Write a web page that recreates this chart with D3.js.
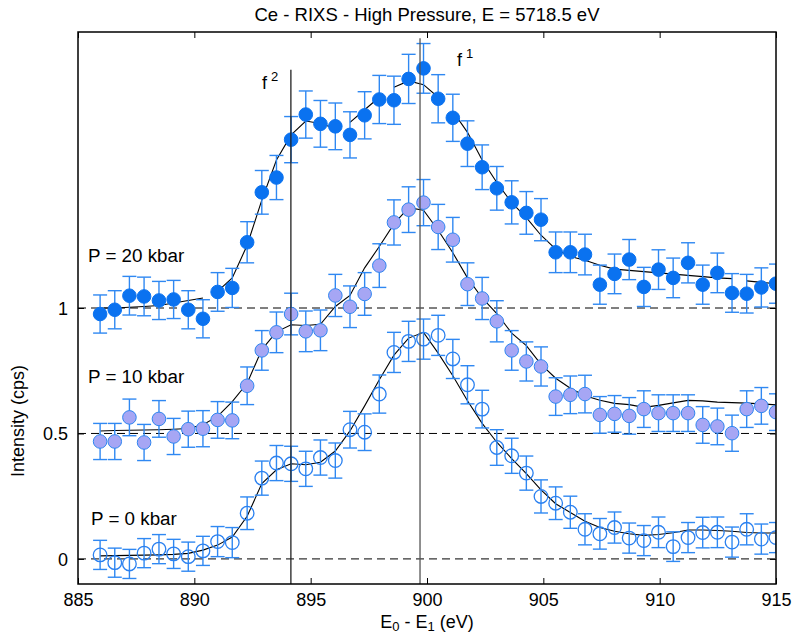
<!DOCTYPE html>
<html>
<head>
<meta charset="utf-8">
<script src="https://cdn.jsdelivr.net/npm/d3@7"></script>
<style>
  body { margin: 0; background: #fff; }
  svg text { font-family: Arial, "Liberation Sans", Helvetica, sans-serif; fill: #000; }
</style>
</head>
<body>
<svg id="chart"></svg>
<script>
// E0 - E1 (eV), same grid for the three pressures
const energy = [885.95, 886.58, 887.21, 887.84, 888.48, 889.11, 889.74, 890.37, 891.00, 891.63,
    892.27, 892.90, 893.53, 894.16, 894.79, 895.42, 896.06, 896.69, 897.32, 897.95,
    898.58, 899.21, 899.85, 900.48, 901.11, 901.74, 902.37, 903.00, 903.64, 904.27,
    904.90, 905.53, 906.16, 906.79, 907.43, 908.06, 908.69, 909.32, 909.95, 910.58,
    911.22, 911.85, 912.48, 913.11, 913.74, 914.37, 915.00]

// P = 0 kbar (offset 0)
const int0 = [0.016, -0.015, -0.02, 0.023, 0.039, 0.02, 0.009, 0.032, 0.069, 0.065,
    0.182, 0.322, 0.382, 0.379, 0.359, 0.404, 0.392, 0.515, 0.505, 0.657,
    0.823, 0.867, 0.876, 0.891, 0.797, 0.694, 0.597, 0.444, 0.411, 0.342,
    0.249, 0.222, 0.186, 0.118, 0.1, 0.125, 0.083, 0.073, 0.106, 0.049,
    0.085, 0.105, 0.106, 0.067, 0.118, 0.079, 0.085]
const err0 = [0.058, 0.058, 0.058, 0.058, 0.058, 0.058, 0.058, 0.058, 0.06, 0.06,
    0.065, 0.068, 0.07, 0.07, 0.07, 0.07, 0.07, 0.073, 0.073, 0.076,
    0.08, 0.08, 0.08, 0.08, 0.078, 0.076, 0.075, 0.071, 0.07, 0.068,
    0.066, 0.065, 0.064, 0.062, 0.061, 0.062, 0.06, 0.06, 0.061, 0.059,
    0.06, 0.061, 0.061, 0.06, 0.062, 0.06, 0.06]
const fit0 = [0.012, 0.013, 0.014, 0.015, 0.016, 0.018, 0.022, 0.035, 0.055, 0.087,
    0.17, 0.30, 0.355, 0.379, 0.375, 0.385, 0.43, 0.51, 0.61, 0.714,
    0.812, 0.88, 0.903, 0.82, 0.73, 0.63, 0.54, 0.465, 0.40, 0.34,
    0.275, 0.22, 0.185, 0.15, 0.125, 0.11, 0.10, 0.094, 0.097, 0.104,
    0.115, 0.115, 0.113, 0.11, 0.105, 0.103, 0.103]

// P = 10 kbar (offset 0.5)
const int10 = [0.468, 0.468, 0.564, 0.464, 0.558, 0.488, 0.517, 0.519, 0.554, 0.552,
    0.69, 0.831, 0.903, 0.976, 0.907, 0.911, 1.05, 1.005, 1.056, 1.169,
    1.341, 1.392, 1.42, 1.323, 1.272, 1.095, 1.038, 0.947, 0.831, 0.787,
    0.767, 0.647, 0.654, 0.657, 0.574, 0.578, 0.57, 0.597, 0.581, 0.581,
    0.581, 0.534, 0.528, 0.501, 0.597, 0.61, 0.585]
const err10 = [0.072, 0.072, 0.073, 0.072, 0.073, 0.072, 0.072, 0.072, 0.073, 0.073,
    0.075, 0.079, 0.081, 0.083, 0.081, 0.081, 0.084, 0.083, 0.085, 0.087,
    0.09, 0.091, 0.092, 0.09, 0.089, 0.085, 0.084, 0.082, 0.079, 0.078,
    0.078, 0.075, 0.075, 0.075, 0.073, 0.073, 0.073, 0.073, 0.073, 0.073,
    0.073, 0.073, 0.073, 0.072, 0.073, 0.073, 0.073]
const fit10 = [0.51, 0.512, 0.513, 0.514, 0.515, 0.517, 0.52, 0.535, 0.568, 0.627,
    0.70, 0.834, 0.905, 0.933, 0.93, 0.935, 1.006, 1.05, 1.16, 1.245,
    1.335, 1.40, 1.39, 1.31, 1.22, 1.12, 1.04, 0.978, 0.90, 0.85,
    0.775, 0.72, 0.68, 0.65, 0.632, 0.62, 0.615, 0.604, 0.612, 0.622,
    0.632, 0.63, 0.625, 0.623, 0.621, 0.618, 0.614]

// P = 20 kbar (offset 1)
const int20 = [0.976, 0.993, 1.049, 1.046, 1.03, 1.034, 0.993, 0.957, 1.064, 1.08,
    1.262, 1.461, 1.52, 1.671, 1.771, 1.734, 1.724, 1.69, 1.768, 1.831,
    1.828, 1.913, 1.955, 1.834, 1.758, 1.655, 1.561, 1.477, 1.421, 1.379,
    1.352, 1.222, 1.222, 1.213, 1.093, 1.136, 1.193, 1.084, 1.153, 1.12,
    1.18, 1.093, 1.14, 1.06, 1.057, 1.082, 1.097]
const err20 = [0.076, 0.076, 0.077, 0.077, 0.076, 0.076, 0.076, 0.076, 0.077, 0.078,
    0.082, 0.087, 0.088, 0.092, 0.094, 0.093, 0.093, 0.092, 0.094, 0.096,
    0.096, 0.098, 0.099, 0.096, 0.094, 0.091, 0.089, 0.087, 0.086, 0.085,
    0.084, 0.081, 0.081, 0.081, 0.078, 0.079, 0.08, 0.078, 0.079, 0.079,
    0.08, 0.078, 0.079, 0.077, 0.077, 0.078, 0.078]
const fit20 = [1.0, 1.0, 1.003, 1.006, 1.01, 1.02, 1.03, 1.04, 1.066, 1.12,
    1.25, 1.43, 1.59, 1.69, 1.745, 1.735, 1.715, 1.74, 1.79, 1.84,
    1.88, 1.905, 1.89, 1.84, 1.784, 1.70, 1.59, 1.50, 1.42, 1.36,
    1.29, 1.235, 1.205, 1.19, 1.17, 1.155, 1.15, 1.145, 1.14, 1.135,
    1.13, 1.125, 1.12, 1.117, 1.108, 1.102, 1.097]
// the 20 kbar fit is drawn broken after these points
const fit20Breaks = [7, 16, 19, 23, 43]

const baselines = [0, 0.5, 1]
const pressureLabels = ['P = 0 kbar', 'P = 10 kbar', 'P = 20 kbar']
const xTicks = [885, 890, 895, 900, 905, 910, 915]
const yTicks = [0, 0.5, 1]
const features = [{name: 'f', sup: '2', e: 894.15, top: 1.95}, {name: 'f', sup: '1', e: 899.7, top: 2.075}]

class RixsChart {
    constructor(parent) {
        this.config = {
            parentElement: parent,
            containerWidth: 793,
            containerHeight: 635,
            margin: {top: 32, right: 17, bottom: 51, left: 78},
        }
        this.initVis()
    }

    initVis() {
        let vis = this
        let c = vis.config
        vis.width = c.containerWidth - c.margin.left - c.margin.right
        vis.height = c.containerHeight - c.margin.top - c.margin.bottom

        vis.svg = d3.select(c.parentElement)
            .attr('width', c.containerWidth)
            .attr('height', c.containerHeight)

        vis.x = d3.scaleLinear().domain([885, 915]).range([c.margin.left, c.margin.left + vis.width])
        vis.y = d3.scaleLinear().domain([-0.1, 2.1]).range([c.margin.top + vis.height, c.margin.top])

        vis.svg.append('defs').append('clipPath').attr('id', 'plot-clip')
            .append('rect')
            .attr('x', c.margin.left).attr('y', c.margin.top)
            .attr('width', vis.width).attr('height', vis.height)

        vis.plot = vis.svg.append('g').attr('clip-path', 'url(#plot-clip)')

        // dashed zero lines of each offset spectrum
        vis.plot.selectAll('.base')
            .data(baselines)
            .join('line')
            .attr('class', 'base')
            .attr('x1', vis.x(885)).attr('x2', vis.x(915))
            .attr('y1', d => vis.y(d)).attr('y2', d => vis.y(d))
            .style('stroke', '#000')
            .style('stroke-width', 1)
            .style('stroke-dasharray', '8,5')

        vis.drawSeries(int0, err0, fit0, [], 'open')
        vis.drawSeries(int10, err10, fit10, [], 'light')
        vis.drawSeries(int20, err20, fit20, fit20Breaks, 'filled')

        // f1 / f2 markers
        vis.plot.selectAll('.feature')
            .data(features)
            .join('line')
            .attr('class', 'feature')
            .attr('x1', d => vis.x(d.e)).attr('x2', d => vis.x(d.e))
            .attr('y1', d => vis.y(d.top)).attr('y2', vis.y(-0.1))
            .style('stroke', (d, i) => i == 0 ? '#222' : '#555')
            .style('stroke-width', 1.3)

        let fl = vis.svg.selectAll('.feature-label')
            .data(features)
            .join('text')
            .attr('class', 'feature-label')
            .attr('x', (d, i) => vis.x(d.e) + (i == 0 ? -29 : 37))
            .attr('y', (d, i) => i == 0 ? 89 : 66)
            .style('font-size', '18px')
        fl.append('tspan').text(d => d.name)
        fl.append('tspan').attr('dx', 4).attr('dy', -8).style('font-size', '13px').text(d => d.sup)

        vis.svg.selectAll('.plabel')
            .data(pressureLabels)
            .join('text')
            .attr('class', 'plabel')
            .attr('x', (d, i) => i == 0 ? 91 : 88)
            .attr('y', (d, i) => [525, 383, 262][i])
            .style('font-size', '18.8px')
            .text(d => d)

        vis.drawAxes()
    }

    drawSeries(vals, errs, fit, breaks, style) {
        let vis = this
        let pts = energy.map((e, i) => ({e: e, v: vals[i], err: errs[i], fit: fit[i], i: i}))

        // fit curve, split into pieces where the original is broken
        let pieces = []
        let start = 0
        breaks.concat([pts.length - 1]).forEach(b => {
            pieces.push(pts.slice(start, b + 1))
            start = b + 1
        })
        let line = d3.line().x(d => vis.x(d.e)).y(d => vis.y(d.fit))
        let g = vis.plot.append('g')
        g.selectAll('.fit')
            .data(pieces)
            .join('path')
            .attr('class', 'fit')
            .attr('d', line)
            .style('fill', 'none')
            .style('stroke', '#000')
            .style('stroke-width', 1.1)

        // error bars with caps
        let eb = g.selectAll('.err')
            .data(pts)
            .join('g')
            .attr('class', 'err')
            .style('stroke', '#2f88f2')
            .style('stroke-width', 1.4)
        eb.append('line')
            .attr('x1', d => vis.x(d.e)).attr('x2', d => vis.x(d.e))
            .attr('y1', d => vis.y(d.v - d.err)).attr('y2', d => vis.y(d.v + d.err))
        eb.append('line')
            .attr('x1', d => vis.x(d.e) - 7).attr('x2', d => vis.x(d.e) + 7)
            .attr('y1', d => vis.y(d.v + d.err)).attr('y2', d => vis.y(d.v + d.err))
        eb.append('line')
            .attr('x1', d => vis.x(d.e) - 7).attr('x2', d => vis.x(d.e) + 7)
            .attr('y1', d => vis.y(d.v - d.err)).attr('y2', d => vis.y(d.v - d.err))

        let fill = {open: 'none', light: '#a6a6f4', filled: '#0a72f0'}[style]
        let stroke = {open: '#2a80f0', light: '#2f86f0', filled: '#0a72f0'}[style]
        g.selectAll('.pt')
            .data(pts)
            .join('circle')
            .attr('class', 'pt')
            .attr('cx', d => vis.x(d.e))
            .attr('cy', d => vis.y(d.v))
            .attr('r', 6.8)
            .style('fill', fill)
            .style('stroke', stroke)
            .style('stroke-width', style == 'open' ? 1.3 : 1)
    }

    drawAxes() {
        let vis = this
        let c = vis.config
        let bottom = c.margin.top + vis.height
        let right = c.margin.left + vis.width

        let xb = vis.svg.append('g').attr('transform', `translate(0,${bottom})`)
            .call(d3.axisBottom(vis.x).tickValues(xTicks).tickSizeInner(-6).tickSizeOuter(0).tickPadding(9).tickFormat(d3.format('d')))
        let xt = vis.svg.append('g').attr('transform', `translate(0,${c.margin.top})`)
            .call(d3.axisTop(vis.x).tickValues(xTicks).tickSizeInner(-6).tickSizeOuter(0).tickFormat(''))
        let yl = vis.svg.append('g').attr('transform', `translate(${c.margin.left},0)`)
            .call(d3.axisLeft(vis.y).tickValues(yTicks).tickSizeInner(-6).tickSizeOuter(0).tickPadding(10).tickFormat(d => d))
        let yr = vis.svg.append('g').attr('transform', `translate(${right},0)`)
            .call(d3.axisRight(vis.y).tickValues(yTicks).tickSizeInner(-6).tickSizeOuter(0).tickFormat(''))

        ;[xb, xt, yl, yr].forEach(a => {
            a.select('.domain').remove()
            a.selectAll('.tick line').style('stroke', '#000').style('stroke-width', 1)
            a.selectAll('.tick text').style('font-size', '18px').style('font-family', 'Arial, "Liberation Sans", sans-serif').style('fill', '#000')
        })
        yl.selectAll('.tick text').attr('dy', '0.36em')

        vis.svg.append('rect')
            .attr('x', c.margin.left).attr('y', c.margin.top)
            .attr('width', vis.width).attr('height', vis.height)
            .style('fill', 'none')
            .style('stroke', '#000')
            .style('stroke-width', 1.5)

        vis.svg.append('text')
            .attr('x', (c.margin.left + right) / 2)
            .attr('y', 21)
            .attr('text-anchor', 'middle')
            .style('font-size', '18.5px')
            .text('Ce - RIXS - High Pressure, E = 5718.5 eV')

        let xl = vis.svg.append('text')
            .attr('x', (c.margin.left + right) / 2)
            .attr('y', 628)
            .attr('text-anchor', 'middle')
            .style('font-size', '18px')
        xl.append('tspan').text('E')
        xl.append('tspan').attr('dy', 3).style('font-size', '13px').text('0')
        xl.append('tspan').attr('dy', -3).text(' - E')
        xl.append('tspan').attr('dy', 3).style('font-size', '13px').text('1')
        xl.append('tspan').attr('dy', -3).text(' (eV)')

        vis.svg.append('text')
            .attr('transform', `translate(24,${vis.y(0.55)}) rotate(-90)`)
            .attr('text-anchor', 'middle')
            .style('font-size', '18px')
            .text('Intensity (cps)')
    }
}

new RixsChart('#chart')
</script>
</body>
</html>
